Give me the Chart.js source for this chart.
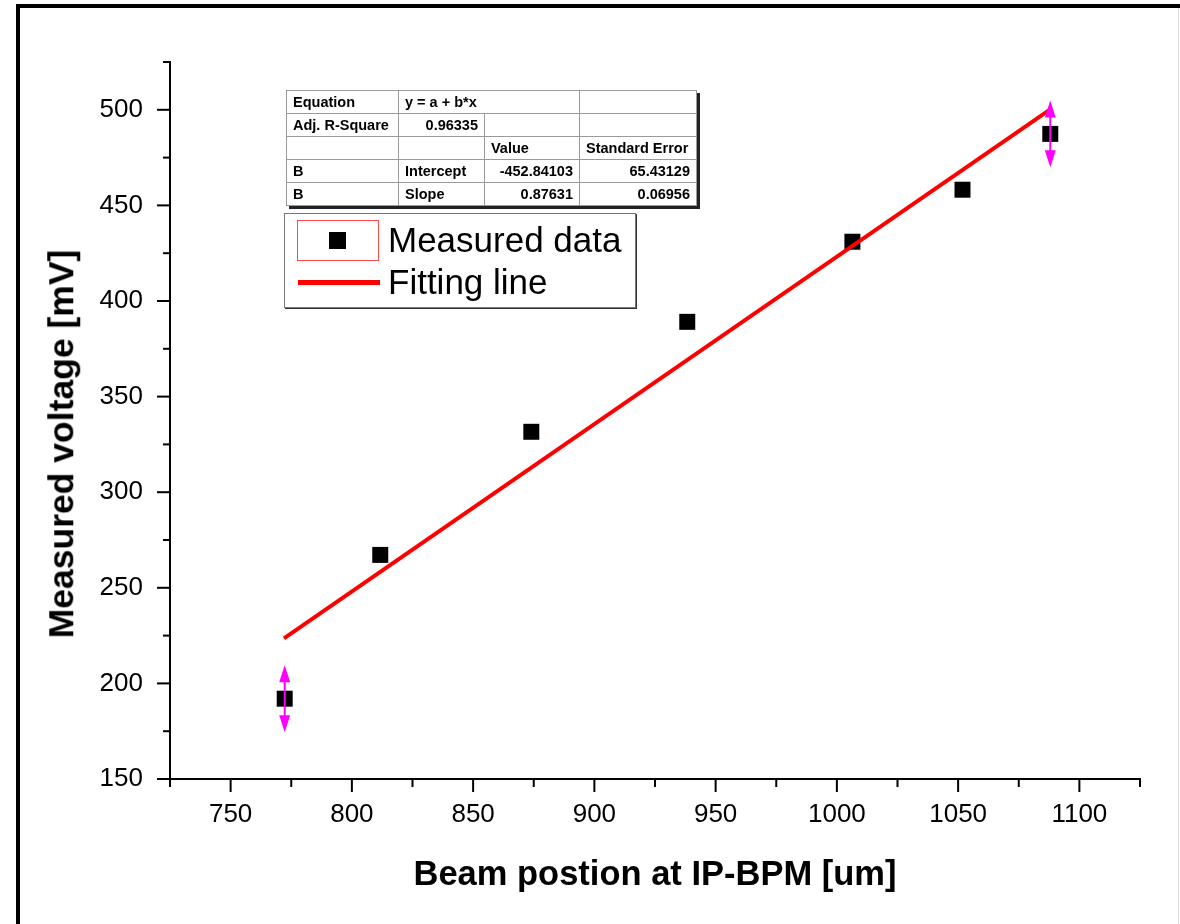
<!DOCTYPE html>
<html><head><meta charset="utf-8">
<script src="https://cdn.jsdelivr.net/npm/chart.js@4/dist/chart.umd.min.js"></script>
<style>
html,body{margin:0;padding:0;background:#fff;}
#wrap{position:relative;width:1180px;height:924px;overflow:hidden;background:#fff;font-family:"Liberation Sans",Arial,sans-serif;color:#000;}
#c{position:absolute;left:0;top:0;}
.fr{position:absolute;background:#000;}
#tbl{position:absolute;left:286px;top:90px;border-collapse:collapse;font-weight:bold;font-size:14.5px;box-shadow:3px 3px 0 #222;background:#fff;}
#tbl td{border:1px solid #9a9a9a;height:22px;padding:0 6px;white-space:nowrap;line-height:22px;}
#tbl td.r{text-align:right;}
#leg{position:absolute;left:284px;top:213px;width:350px;height:93px;border:1px solid #777;box-shadow:1px 1px 0 #333;background:#fff;}
#leg .box{position:absolute;left:12px;top:6px;width:80px;height:39px;border:1px solid #ff4a4a;}
#leg .sq{position:absolute;left:44px;top:18px;width:17px;height:17px;background:#000;}
#leg .ln{position:absolute;left:13px;top:66px;width:82px;height:5px;background:#ff0000;}
#leg .t{position:absolute;left:103px;font-size:35px;line-height:35px;white-space:nowrap;}
.ttl{position:absolute;font-weight:bold;white-space:nowrap;line-height:1;}
</style></head>
<body><div id="wrap">
<canvas id="c" width="1180" height="924"></canvas>
<div class="fr" style="left:16px;top:4px;width:1164px;height:4px;"></div>
<div class="fr" style="left:16px;top:4px;width:4px;height:920px;"></div>
<div class="fr" style="left:1178px;top:8px;width:1px;height:916px;background:#ddd;"></div>
<table id="tbl"></table>
<div id="leg"></div>
<div class="ttl" id="xt"></div>
<div class="ttl" id="yt"></div>
</div>
<script>
// ---- data ----
const positions = [772.3, 811.7, 874.0, 938.3, 1006.4, 1051.8, 1088.0];   // beam position [um]
const voltages  = [192.0, 267.2, 331.6, 389.1, 431.0, 458.2, 487.4];      // measured voltage [mV]
const errors    = [17.5, null, null, null, null, null, 17.5];             // error bars [mV]
const fitX = [772, 1088];
const fitY = [223.5, 500.2];
const xRange = [725, 1125];
const yRange = [150, 525];
const tickStep = 25;
const labelStep = 50;
const seriesNames = ['Measured data', 'Fitting line'];
const xTitle = 'Beam postion at IP-BPM [um]';
const yTitle = 'Measured voltage [mV]';
const fitRows = [
  ['Equation', 'y = a + b*x', '', ''],
  ['Adj. R-Square', '0.96335', '', ''],
  ['', '', 'Value', 'Standard Error'],
  ['B', 'Intercept', '-452.84103', '65.43129'],
  ['B', 'Slope', '0.87631', '0.06956']
];

// ---- fit table ----
const tbl = document.getElementById('tbl');
const colW = [112, 86, 95, 117];
fitRows.forEach((row, ri) => {
  const tr = document.createElement('tr');
  if (ri === 0) {
    const a = document.createElement('td'); a.textContent = row[0]; a.style.width = (colW[0]-13)+'px'; tr.appendChild(a);
    const b = document.createElement('td'); b.colSpan = 2; b.textContent = row[1]; tr.appendChild(b);
    const c = document.createElement('td'); c.textContent = row[3]; c.style.width=(colW[3]-13)+'px'; tr.appendChild(c);
  } else {
    row.forEach((v, ci) => {
      const td = document.createElement('td');
      td.textContent = v;
      if ((ri === 1 && ci === 1) || (ri >= 3 && ci >= 2)) td.className = 'r';
      if (ri === 1) td.style.width = (colW[ci]-13)+'px';
      tr.appendChild(td);
    });
  }
  tbl.appendChild(tr);
});

// ---- legend ----
const leg = document.getElementById('leg');
leg.innerHTML = '<div class="box"></div><div class="sq"></div><div class="ln"></div>' +
  '<div class="t" style="top:8px">' + seriesNames[0] + '</div>' +
  '<div class="t" style="top:50px">' + seriesNames[1] + '</div>';

// ---- axis titles ----
const xt = document.getElementById('xt');
xt.textContent = xTitle;
xt.style.fontSize = '34.5px';
xt.style.left = '655px'; xt.style.top = '856px';
xt.style.transform = 'translateX(-50%)';
const yt = document.getElementById('yt');
yt.textContent = yTitle;
yt.style.fontSize = '35.5px';
yt.style.left = '62px'; yt.style.top = '444px';
yt.style.transform = 'translate(-50%,-50%) rotate(-90deg)';

// ---- plugin: tick marks (major/minor) and error bars ----
const extras = {
  id: 'extras',
  afterDraw(chart) {
    const ctx = chart.ctx;
    const xs = chart.scales.x, ys = chart.scales.y;
    ctx.save();
    ctx.strokeStyle = '#000';
    ctx.lineWidth = 2;
    const ca = chart.chartArea;
    xs.ticks.forEach(t => {
      const px = xs.getPixelForValue(t.value);
      const len = (t.value % labelStep === 0) ? 13 : 8;
      ctx.beginPath(); ctx.moveTo(px, ca.bottom); ctx.lineTo(px, ca.bottom + len); ctx.stroke();
    });
    ys.ticks.forEach(t => {
      const py = ys.getPixelForValue(t.value);
      const len = (t.value % labelStep === 0) ? 13 : 7;
      ctx.beginPath(); ctx.moveTo(ca.left, py); ctx.lineTo(ca.left - len, py); ctx.stroke();
    });
    ctx.restore();
  },
  afterDatasetsDraw(chart) {
    const ctx = chart.ctx;
    const xs = chart.scales.x, ys = chart.scales.y;
    ctx.save();
    ctx.strokeStyle = '#ff00ff';
    ctx.fillStyle = '#ff00ff';
    ctx.lineWidth = 2;
    errors.forEach((e, i) => {
      if (e == null) return;
      const px = xs.getPixelForValue(positions[i]);
      const yT = ys.getPixelForValue(voltages[i] + e);
      const yB = ys.getPixelForValue(voltages[i] - e);
      const aL = 17, aW = 5.5;
      ctx.beginPath(); ctx.moveTo(px, yT + aL - 2); ctx.lineTo(px, yB - aL + 2); ctx.stroke();
      ctx.beginPath(); ctx.moveTo(px, yT); ctx.lineTo(px - aW, yT + aL); ctx.lineTo(px + aW, yT + aL); ctx.closePath(); ctx.fill();
      ctx.beginPath(); ctx.moveTo(px, yB); ctx.lineTo(px - aW, yB - aL); ctx.lineTo(px + aW, yB - aL); ctx.closePath(); ctx.fill();
    });
    ctx.restore();
  }
};

const tickFont = { family: '"Liberation Sans", Arial, sans-serif', size: 26 };
new Chart(document.getElementById('c'), {
  type: 'scatter',
  data: {
    datasets: [
      {
        label: seriesNames[0],
        data: positions.map((x, i) => ({ x, y: voltages[i] })),
        pointStyle: 'rect', pointRadius: 11.3, pointHoverRadius: 11.3,
        backgroundColor: '#000', borderColor: '#000', borderWidth: 0,
        order: 2
      },
      {
        label: seriesNames[1],
        data: fitX.map((x, i) => ({ x, y: fitY[i] })),
        showLine: true, borderColor: '#ff0000', borderWidth: 4,
        pointRadius: 0, fill: false, order: 1
      }
    ]
  },
  options: {
    responsive: false, animation: false, events: [],
    layout: { padding: { top: 62, right: 40, left: 0, bottom: 0 } },
    plugins: { legend: { display: false }, tooltip: { enabled: false }, title: { display: false } },
    scales: {
      x: {
        type: 'linear', min: xRange[0], max: xRange[1],
        afterFit: s => { s.height = 145; },
        grid: { display: false, drawTicks: false },
        border: { display: true, color: '#000', width: 2 },
        ticks: { stepSize: tickStep, color: '#000', font: tickFont, padding: 20, maxRotation: 0, autoSkip: false,
          callback: v => (v % labelStep === 0 ? String(v) : '') }
      },
      y: {
        type: 'linear', min: yRange[0], max: yRange[1],
        afterFit: s => { s.width = 170; },
        grid: { display: false, drawTicks: false },
        border: { display: true, color: '#000', width: 2 },
        ticks: { stepSize: tickStep, color: '#000', font: tickFont, padding: 27, autoSkip: false,
          callback: v => (v % labelStep === 0 && v <= 500 ? String(v) : '') }
      }
    }
  },
  plugins: [extras]
});
</script>
</body></html>
